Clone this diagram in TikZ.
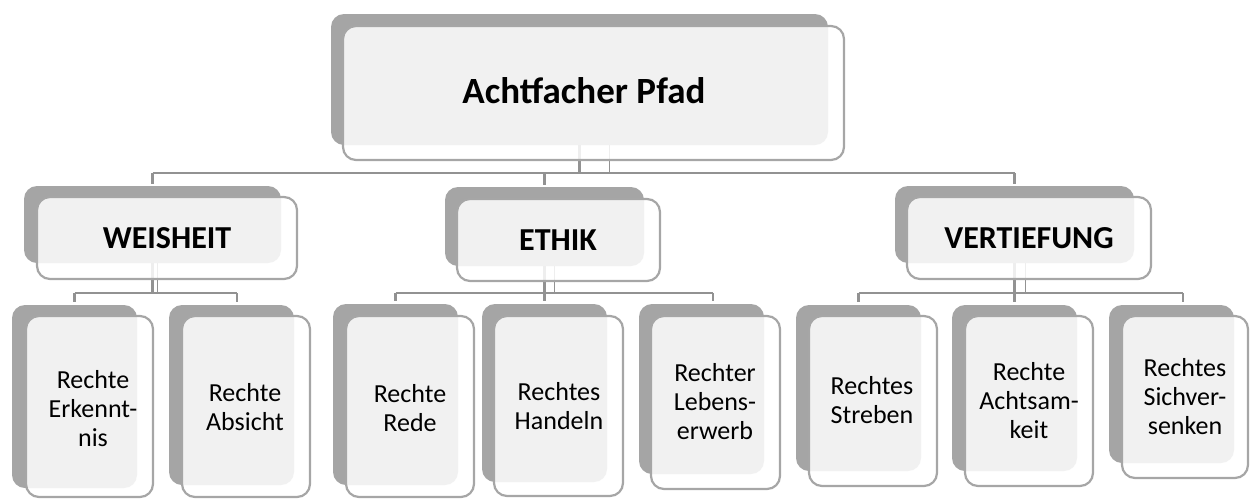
\documentclass[tikz,border=0pt]{standalone}
\usepackage{fontspec}
\setmainfont{Carlito}
\definecolor{shade}{HTML}{A5A5A5}
\definecolor{edge}{HTML}{A6A6A6}
\definecolor{linec}{HTML}{929292}
\tikzset{
  back/.style={rectangle, fill=shade, draw=none, rounded corners=13pt, inner sep=0pt, outer sep=0pt},
  front/.style={rectangle, fill=white, fill opacity=0.85, draw=edge, line width=2.2pt, rounded corners=13pt, inner sep=0pt, outer sep=0pt},
  conn/.style={draw=linec, line width=2.2pt},
  conntwo/.style={draw=linec, line width=1.6pt},
  hdrbig/.style={inner sep=0pt, font=\bfseries\fontsize{37}{44}\selectfont},
  hdr/.style={inner sep=0pt, font=\bfseries\fontsize{32}{38}\selectfont},
  leaf/.style={inner sep=0pt, align=center, font=\fontsize{26}{29}\selectfont},
}
\newcommand\mybox[6]{%
  \node[#6, minimum width={(#4-#2)*1pt}, minimum height={(#5-#3)*1pt}] (#1) at ({(#2+#4)/2},{(#3+#5)/2}) {};}
\begin{document}
\begin{tikzpicture}[x=1pt,y=-1pt]
\useasboundingbox (0,0) rectangle (1250,499);
% back layer
\mybox{topB}{331}{14}{828}{145}{back}
\mybox{weiB}{24}{186}{281}{263}{back}
\mybox{ethB}{445}{187}{644}{266}{back}
\mybox{verB}{895}{186}{1134}{263}{back}
\mybox{erkB}{12}{305}{137}{488}{back}
\mybox{absB}{169}{305}{294}{485}{back}
\mybox{redB}{333}{304}{458}{485}{back}
\mybox{hanB}{482}{304}{607}{482}{back}
\mybox{lebB}{639}{304}{764}{474}{back}
\mybox{strB}{796}{305}{921}{471}{back}
\mybox{achB}{952}{305}{1077}{471}{back}
\mybox{sicB}{1109}{305}{1234}{463}{back}
% connectors
\coordinate (busA) at (0,173);
\coordinate (busB) at (0,293);
\draw[conn] (topB.south) -- (topB.south |- busA);
\draw[conntwo] ([xshift=30pt]topB.south) -- ([xshift=30pt]topB.south |- busA);
\draw[conn] (weiB.north |- busA) -- (verB.north |- busA);
\foreach \n in {weiB,ethB,verB}
  \draw[conn, shorten >=2pt] (\n.north |- busA) -- (\n.north);
% WEISHEIT group
\draw[conn] (weiB.south) -- (weiB.south |- busB);
\draw[conntwo] ([xshift=5pt]weiB.south) -- ([xshift=5pt]weiB.south |- busB);
\draw[conn] (erkB.north |- busB) -- ([xshift=5.5pt]absB.north |- busB);
\draw[conn, shorten >=3pt] (erkB.north |- busB) -- (erkB.north);
\draw[conn, shorten >=3pt] ([xshift=5.5pt]absB.north |- busB) -- ([xshift=5.5pt]absB.north);
% ETHIK group
\draw[conn] (ethB.south) -- (ethB.south |- busB);
\draw[conntwo] ([xshift=10pt]ethB.south) -- ([xshift=10pt]ethB.south |- busB);
\draw[conn] (redB.north |- busB) -- ([xshift=11.5pt]lebB.north |- busB);
\draw[conn, shorten >=3pt] (redB.north |- busB) -- (redB.north);
\draw[conn, shorten >=3pt] (hanB.north |- busB) -- (hanB.north);
\draw[conn, shorten >=3pt] ([xshift=11.5pt]lebB.north |- busB) -- ([xshift=11.5pt]lebB.north);
% VERTIEFUNG group
\draw[conn] (verB.south) -- (verB.south |- busB);
\draw[conntwo] ([xshift=11pt]verB.south) -- ([xshift=11pt]verB.south |- busB);
\draw[conn] (strB.north |- busB) -- ([xshift=11.5pt]sicB.north |- busB);
\draw[conn, shorten >=3pt] (strB.north |- busB) -- (strB.north);
\draw[conn, shorten >=3pt] (achB.north |- busB) -- (achB.north);
\draw[conn, shorten >=3pt] ([xshift=11.5pt]sicB.north |- busB) -- ([xshift=11.5pt]sicB.north);
% front layer
\mybox{topF}{343}{26}{844}{160}{front}
\mybox{weiF}{37}{197}{297}{279}{front}
\mybox{ethF}{457}{199}{660}{281}{front}
\mybox{verF}{907}{197}{1151}{279}{front}
\mybox{erkF}{26}{316}{153}{497}{front}
\mybox{absF}{182}{316}{310}{497}{front}
\mybox{redF}{346}{316}{474}{497}{front}
\mybox{hanF}{494}{316}{623}{496}{front}
\mybox{lebF}{651}{316}{780}{489}{front}
\mybox{strF}{809}{316}{937}{486}{front}
\mybox{achF}{965}{316}{1093}{486}{front}
\mybox{sicF}{1122}{316}{1248}{478}{front}
% texts
\node[hdrbig] (topT) at (584,91) {Achtfacher Pfad};
\node[hdr] (weiT) at (167,238) {WEISHEIT};
\node[hdr] (ethT) at (558,240) {ETHIK};
\node[hdr] (verT) at (1029,238) {VERTIEFUNG};
\node[leaf] (erkT) at (93,409) {Rechte\\Erkennt-\\nis};
\node[leaf] (absT) at (245,407) {Rechte\\Absicht};
\node[leaf] (redT) at (410,408) {Rechte\\Rede};
\node[leaf] (hanT) at (559,406) {Rechtes\\Handeln};
\node[leaf] (lebT) at (715,402) {Rechter\\Lebens-\\erwerb};
\node[leaf] (strT) at (872,400) {Rechtes\\Streben};
\node[leaf] (achT) at (1029,401) {Rechte\\Achtsam-\\keit};
\node[leaf] (sicT) at (1185,397) {Rechtes\\Sichver-\\senken};
\end{tikzpicture}
\end{document}
